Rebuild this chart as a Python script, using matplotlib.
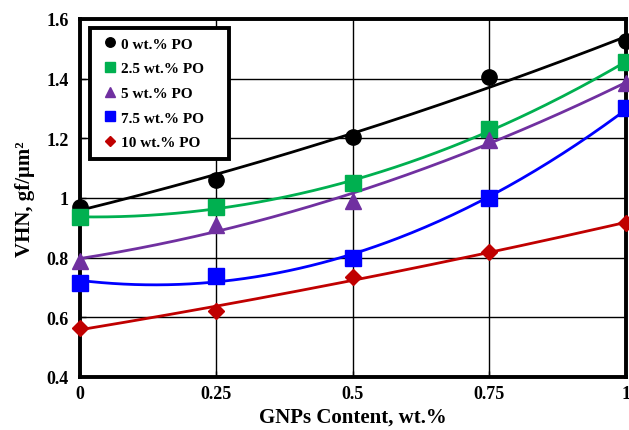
import numpy as np
import matplotlib
matplotlib.use('Agg')
import matplotlib.pyplot as plt
from matplotlib.lines import Line2D

plt.rcParams['font.family'] = ['Liberation Serif', 'DejaVu Serif']
plt.rcParams['font.weight'] = 'bold'

# 数据
gnps = [0, 0.25, 0.5, 0.75, 1]
labels = ['0 wt.% PO', '2.5 wt.% PO', '5 wt.% PO', '7.5 wt.% PO', '10 wt.% PO']
vhn_0 = [0.97, 1.06, 1.205, 1.405, 1.525]
vhn_25 = [0.935, 0.97, 1.05, 1.23, 1.455]
vhn_5 = [0.79, 0.91, 0.99, 1.195, 1.385]
vhn_75 = [0.715, 0.74, 0.80, 1.00, 1.30]
vhn_10 = [0.565, 0.62, 0.735, 0.82, 0.915]

series = [vhn_0, vhn_25, vhn_5, vhn_75, vhn_10]
colors = ['black', '#00B050', '#7030A0', '#0000FF', '#C00000']
markers = ['o', 's', '^', 's', 'D']
msizes = [11, 11, 11, 11, 8]

fig = plt.figure(figsize=(6.29, 4.31), dpi=100)
ax = fig.add_axes([0.127, 0.123, 0.868, 0.831])

xs = np.linspace(0, 1, 200)
handles = []
for y, c, m, ms, lab in zip(series, colors, markers, msizes, labels):
    # 二次趋势线
    coef = np.polyfit(gnps, y, 2)
    ax.plot(xs, np.polyval(coef, xs), color=c, lw=2, zorder=3)
    ax.plot(gnps, y, linestyle='none', marker=m, color=c, ms=ms, zorder=4, clip_on=False)
    handles.append(Line2D([], [], linestyle='none', marker=m, color=c, ms=ms * 0.62, label=lab))

ax.set_xlim(0, 1)
ax.set_ylim(0.4, 1.6)
ax.set_xticks(gnps)
ax.set_xticklabels(['0', '0.25', '0.5', '0.75', '1'])
ax.set_yticks([0.4, 0.6, 0.8, 1.0, 1.2, 1.4, 1.6])
ax.set_yticklabels(['0.4', '0.6', '0.8', '1', '1.2', '1.4', '1.6'])
ax.grid(True, color='black', lw=1)
ax.set_axisbelow(True)
ax.tick_params(direction='in', length=4, width=1, labelsize=13)
ax.tick_params(axis='x', pad=6)
ax.tick_params(axis='y', pad=8)
for s in ax.spines.values():
    s.set_linewidth(2.8)

ax.set_xlabel('GNPs Content, wt.%', fontsize=15, fontweight='bold', labelpad=3)
ax.set_ylabel('VHN, gf/μm²', fontsize=15, fontweight='bold', labelpad=8)

leg = ax.legend(handles=handles, loc='upper left', bbox_to_anchor=(0.018, 0.975, 0.256, 0.0),
                mode='expand', borderaxespad=0,
                frameon=True, fancybox=False, edgecolor='black', framealpha=1,
                prop={'size': 11, 'weight': 'bold'}, handlelength=1.5, handletextpad=-0.05,
                labelspacing=0.72, borderpad=0.6)
leg.get_frame().set_linewidth(2.8)

fig.savefig('out.png', dpi=100)
